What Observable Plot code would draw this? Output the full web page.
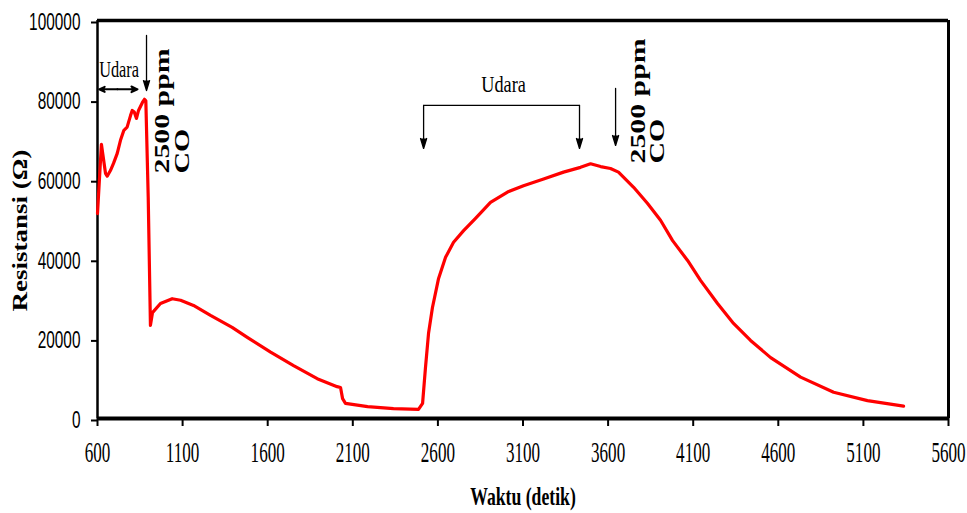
<!DOCTYPE html>
<html><head><meta charset="utf-8">
<script src="https://cdn.jsdelivr.net/npm/d3@7"></script>
<script src="https://cdn.jsdelivr.net/npm/@observablehq/plot@0.6"></script>
<style>body{margin:0;background:#fff}</style>
</head><body><div id="chart"></div>
<script>
// ---- data ----
const time = [600, 623, 647, 657, 676, 694, 716, 735, 755, 774, 794, 804, 816, 829, 841, 864, 876, 884, 898, 911, 923, 970, 1039, 1088, 1164, 1264, 1391, 1480, 1617, 1752, 1891, 2008, 2028, 2040, 2057, 2187, 2339, 2486, 2510, 2527, 2545, 2568, 2604, 2645, 2692, 2751, 2821, 2909, 3009, 3103, 3221, 3338, 3438, 3497, 3556, 3614, 3661, 3750, 3832, 3908, 3979, 4067, 4143, 4243, 4337, 4437, 4555, 4731, 4925, 5124, 5336];
const resistance = [51500, 68900, 61600, 60900, 62300, 64100, 66600, 69900, 72400, 73200, 76100, 77400, 77000, 75400, 77400, 79400, 80200, 79800, 55600, 23400, 26600, 28900, 30100, 29700, 28400, 25900, 22900, 20400, 16700, 13300, 10000, 8000, 7800, 5000, 3800, 3000, 2500, 2300, 3800, 12800, 21400, 27900, 35200, 40500, 44300, 47200, 50300, 54300, 56900, 58500, 60200, 61900, 63100, 64000, 63300, 62800, 61900, 58100, 54000, 49800, 44700, 39700, 34700, 28900, 23900, 19600, 15300, 10400, 6600, 4500, 3100];

const xTicks = [600, 1100, 1600, 2100, 2600, 3100, 3600, 4100, 4600, 5100, 5600];
const yTicks = [0, 20000, 40000, 60000, 80000, 100000];
const xTitle = "Waktu (detik)";
const yTitle = "Resistansi (Ω)";

// annotations (data coordinates)
const udaraText = ["Udara", "Udara"];
const udaraX = [727, 2986];
const udaraY = [87700, 83900];
const gasText = ["2500 ppm", "CO", "2500 ppm", "CO"];
const gasX = [982, 1099, 3779, 3891];
const gasY = [61570, 61570, 64080, 64080];
// vertical arrows: x1, y1, x2, y2
const arrowX1 = [888, 2516, 3432, 3644];
const arrowY1 = [96250, 78660, 78660, 82930];
const arrowX2 = [888, 2516, 3432, 3644];
const arrowY2 = [82400, 67850, 67850, 68600];
// double-headed arrow (from its middle outwards)
const dblX1 = [717, 717];
const dblX2 = [610, 835];
const dblY = [82700, 82700];
const bracketX = [2516, 3432];
const bracketY = [78660, 78660];

const curve = time.map((t, i) => ({t, r: resistance[i]}));
const arrows = arrowX1.map((x1, i) => ({x1, y1: arrowY1[i], x2: arrowX2[i], y2: arrowY2[i]}));
const dbl = dblX1.map((x1, i) => ({x1, x2: dblX2[i], y: dblY[i]}));
const udara = udaraText.map((s, i) => ({s, x: udaraX[i], y: udaraY[i], k: "udara" + (i + 1)}));
const gas = gasText.map((s, i) => ({s, x: gasX[i], y: gasY[i]}));
const bracket = bracketX.map((x, i) => ({x, y: bracketY[i]}));

const serif = "'Liberation Serif', 'Times New Roman', serif";
const sans = "'Liberation Sans', Arial, sans-serif";

const chart = Plot.plot({
  width: 967, height: 513,
  marginLeft: 97, marginRight: 19, marginTop: 20, marginBottom: 95,
  x: {domain: [600, 5600]},
  y: {domain: [0, 100000]},
  style: {background: "white", color: "black"},
  marks: [
    Plot.axisX({ticks: xTicks, tickSize: 8, tickPadding: 14, strokeWidth: 2, fontSize: 30, fontFamily: serif, tickFormat: d => String(d), label: null}),
    Plot.axisY({ticks: yTicks, tickSize: 6, tickPadding: 11, strokeWidth: 2, fontSize: 23, fontFamily: sans, tickFormat: d => String(d), label: null, dy: 2}),
    Plot.ruleY([100000], {stroke: "black", strokeWidth: 3.5}),
    Plot.ruleX([5600], {stroke: "black", strokeWidth: 3}),
    Plot.ruleX([600], {stroke: "black", strokeWidth: 2.5}),
    Plot.line(curve, {x: "t", y: "r", stroke: "#ff0000", strokeWidth: 3.2, strokeLinejoin: "round", strokeLinecap: "round"}),
    Plot.ruleY([0], {stroke: "black", strokeWidth: 4}),
    Plot.line(bracket, {x: "x", y: "y", stroke: "black", strokeWidth: 1.3}),
    Plot.arrow(arrows, {x1: "x1", y1: "y1", x2: "x2", y2: "y2", stroke: "black", fill: "black", strokeWidth: 1.3, headLength: 12, headAngle: 34}),
    Plot.arrow(dbl, {x1: "x1", y1: "y", x2: "x2", y2: "y", stroke: "black", fill: "black", strokeWidth: 2, headLength: 8, headAngle: 50}),
    Plot.text(udara, {x: "x", y: "y", text: "s", fontSize: 24, fontFamily: serif, lineAnchor: "middle", ariaLabel: "k"}),
    Plot.text(gas, {x: "x", y: "y", text: "s", rotate: -90, textAnchor: "start", lineAnchor: "middle", fontSize: 21, fontWeight: "bold", fontFamily: serif, ariaLabel: () => "gas"}),
    Plot.text([xTitle], {frameAnchor: "bottom", dy: 78, textAnchor: "middle", lineAnchor: "middle", fontSize: 26, fontWeight: "bold", fontFamily: serif, ariaLabel: () => "xtitle"}),
    Plot.text([yTitle], {frameAnchor: "left", dx: -77, dy: 11, rotate: -90, textAnchor: "middle", lineAnchor: "middle", fontSize: 20, fontWeight: "bold", fontFamily: serif, ariaLabel: () => "ytitle"})
  ]
});

// condense horizontal text / stretch vertical text as in the reference
const stretch = {"x-axis tick label": 0.57, "y-axis tick label": 0.67, "xtitle": 0.68, "ytitle": 1.35, "udara1": 0.68, "udara2": 0.76, "gas": 1.42};
for (const t of chart.querySelectorAll("text")) {
  let key = t.getAttribute("aria-label");
  if (!(key in stretch)) { const g = t.closest("g[aria-label]"); key = g && g.getAttribute("aria-label"); }
  const s = stretch[key];
  if (!s) continue;
  const x = +t.getAttribute("x") || 0, y = +t.getAttribute("y") || 0;
  const tr = t.getAttribute("transform") || "";
  t.setAttribute("transform", `${tr} translate(${x},${y}) scale(${s},1) translate(${-x},${-y})`);
}
document.getElementById("chart").append(chart);
</script>
</body></html>
